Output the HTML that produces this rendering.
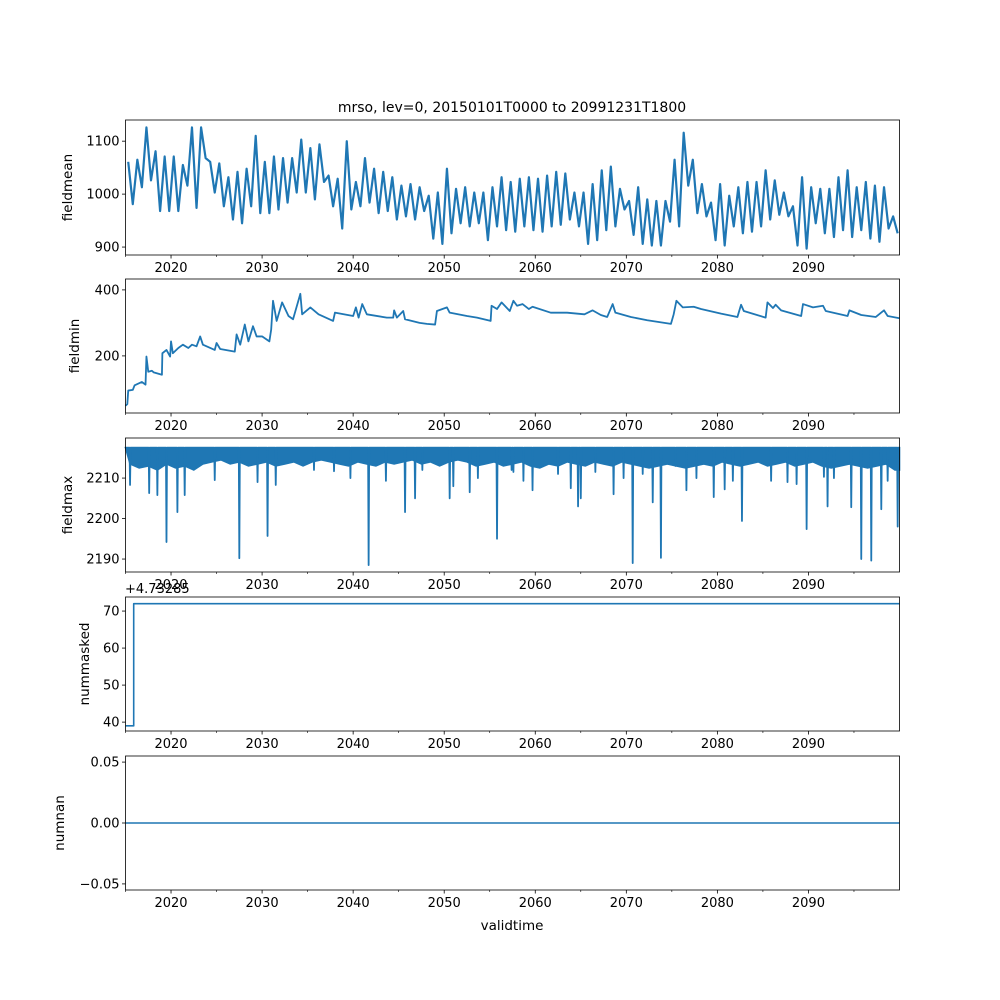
<!DOCTYPE html>
<html><head><meta charset="utf-8"><style>
body{margin:0;background:#fff}
svg{display:block;font-family:"DejaVu Sans","Liberation Sans",sans-serif}
</style></head><body>
<svg id="fig" width="1000" height="1000" viewBox="0 0 1000 1000" xmlns="http://www.w3.org/2000/svg">
<rect width="1000" height="1000" fill="#fff"/>
<text x="512" y="112" font-size="14" text-anchor="middle">mrso, lev=0, 20150101T0000 to 20991231T1800</text>
<text x="512" y="930" font-size="13.5" text-anchor="middle">validtime</text>
<g id="plots"></g>
</svg>
<script>
const meanYears0 = 2015;
const meanHigh = [1061,1065,1126,1081,1071,1071,1055,1126,1126,1061,1058,1032,1042,1048,1110,1061,1071,1068,1068,1103,1087,1094,1035,1029,1100,1023,1068,1048,1042,1032,1016,1019,1013,997,1003,1048,1010,1013,1003,1003,1013,1032,1023,1029,1032,1029,1035,1042,1039,1003,1003,1019,1045,1052,1010,987,1013,990,987,987,1065,1116,1065,1019,984,1019,997,1013,1023,1023,1045,1026,1003,977,1032,1013,1010,1010,1032,1045,1013,1023,1016,1013,958];
const meanLow = [981,1013,1026,968,968,968,1016,974,1068,1003,977,952,945,977,964,964,971,984,1003,1003,990,1023,977,935,971,977,984,964,968,952,958,952,968,916,906,926,945,939,945,913,939,932,929,939,932,929,939,942,952,939,906,913,932,939,971,923,906,903,903,948,939,1016,964,958,913,903,939,926,929,939,952,961,958,903,897,945,926,919,932,919,932,916,910,935,926];
const minYears = [2015.0,2015.2,2015.3,2015.8,2016.0,2016.8,2017.2,2017.3,2017.5,2017.9,2018.1,2019.0,2019.05,2019.5,2019.9,2020.0,2020.2,2020.8,2021.3,2021.9,2022.3,2022.8,2023.2,2023.5,2024.8,2025.0,2025.4,2027.0,2027.2,2027.6,2028.1,2028.5,2029.0,2029.4,2030.0,2030.8,2031.0,2031.2,2031.6,2032.2,2032.9,2033.4,2034.2,2034.4,2035.3,2036.2,2037.8,2038.0,2040.0,2040.3,2040.6,2041.0,2041.5,2043.7,2044.4,2044.5,2044.8,2045.5,2045.7,2047.3,2048.1,2049.0,2049.2,2050.3,2050.6,2052.5,2053.6,2055.1,2055.2,2055.8,2056.3,2057.2,2057.6,2058.0,2058.6,2059.3,2059.7,2061.7,2063.5,2065.4,2066.3,2067.2,2067.9,2068.5,2068.8,2070.5,2072.3,2074.9,2075.2,2075.5,2076.2,2077.4,2078.2,2080.4,2082.2,2082.6,2082.9,2085.3,2085.5,2086.1,2086.4,2087.0,2089.2,2089.4,2090.5,2091.6,2091.9,2094.3,2094.5,2095.8,2097.4,2098.3,2098.7,2100.0];
const minValues = [49,54,95,97,111,121,113,198,152,155,150,143,208,218,198,244,208,224,234,224,234,229,259,234,218,239,221,213,265,234,295,244,290,259,259,244,280,367,306,362,321,311,388,326,347,326,306,331,321,347,316,357,326,316,316,338,316,336,311,300,297,295,336,347,331,321,316,306,352,342,362,336,367,352,357,342,349,331,331,326,338,324,318,357,331,318,308,297,326,367,347,349,342,328,318,355,336,316,362,345,355,338,321,357,347,352,336,321,338,324,318,338,321,314];
const maxTop = 2217.5;
const maxBand = [2213.5,2212.5,2213,2212,2213.5,2212.5,2213,2212,2213.5,2214,2214.5,2213.5,2214,2213,2213.5,2214,2213,2213.5,2214,2213,2214,2214.5,2214,2213.5,2213,2214,2213.5,2213,2214,2213.5,2214,2214.5,2213.5,2214,2213,2214,2214.5,2214,2213,2213.5,2214,2213,2213.5,2214,2213,2212.5,2213.5,2213,2214,2213.5,2213,2214,2213.5,2213,2214,2213.5,2213,2212.5,2213,2213.5,2213,2212.5,2213,2213.5,2213,2214,2213.5,2213,2213.5,2214,2213,2213.5,2214,2213,2213.5,2214,2213,2212.5,2213,2213.5,2213,2212.5,2213,2213.5,2212];
const dipYears = [2015.5,2017.6,2018.5,2019.5,2020.7,2021.5,2024.8,2027.5,2029.5,2030.6,2031.5,2035.7,2037.9,2039.7,2041.7,2043.6,2045.7,2046.8,2047.6,2050.6,2051.0,2052.8,2053.7,2055.8,2057.4,2057.6,2058.7,2059.7,2062.5,2063.9,2064.7,2065.0,2066.6,2068.6,2069.7,2070.7,2071.8,2072.9,2073.8,2075.4,2076.6,2077.7,2079.6,2080.8,2081.7,2082.7,2085.9,2087.7,2088.7,2089.8,2091.7,2092.1,2092.8,2094.7,2095.8,2096.9,2098.0,2098.7,2099.8];
const dipValues = [2208.3,2206.3,2205.8,2194.2,2201.6,2205.8,2209.5,2190.2,2209,2195.7,2208.3,2212,2211.7,2210,2188.5,2209.3,2201.6,2205,2212,2205,2208,2206.5,2210,2195,2212,2211.5,2209.3,2207,2211,2207.5,2203,2205,2211.5,2206,2210,2189,2211,2204,2190.3,2213,2207,2210,2205.3,2207.2,2209.3,2199.4,2209.3,2209,2208.5,2197.4,2210.3,2203,2210,2202.8,2190,2189.6,2202.3,2209.3,2198];
const maskedYears = [2015.0,2015.9,2015.9,2100.0];
const maskedValues = [39,39,72,72];
const nanYears = [2015.0,2100.0];
const nanValues = [0,0];
const xMajorTicks = [2020,2030,2040,2050,2060,2070,2080,2090];
const xMinorTicks = [2015,2025,2035,2045,2055,2065,2075,2085,2095];

const NS='http://www.w3.org/2000/svg';
const C='#1f77b4';
const X0=125.5,X1=899.5,XMIN=2015,XMAX=2100;
const xs=v=>X0+(v-XMIN)/(XMAX-XMIN)*(X1-X0);
const root=document.getElementById('plots');
function mk(tag,attrs,parent){const e=document.createElementNS(NS,tag);for(const k in attrs)e.setAttribute(k,attrs[k]);(parent||root).appendChild(e);return e;}

const panels=[
 {name:'fieldmean',top:120,bot:255,ymin:885,ymax:1140,ticks:[900,1000,1100],labels:['900','1000','1100'],lx:72},
 {name:'fieldmin',top:279,bot:413,ymin:27,ymax:433,ticks:[200,400],labels:['200','400'],lx:79},
 {name:'fieldmax',top:438,bot:572,ymin:2186.8,ymax:2219.9,ticks:[2190,2200,2210],labels:['2190','2200','2210'],lx:72},
 {name:'nummasked',top:597,bot:731,ymin:37.6,ymax:73.8,ticks:[40,50,60,70],labels:['40','50','60','70'],lx:89},
 {name:'numnan',top:756,bot:890,ymin:-0.055,ymax:0.055,ticks:[-0.05,0,0.05],labels:['\u22120.05','0.00','0.05'],lx:64}
];
panels.forEach((p,i)=>{
 const g=mk('g',{});
 
 
 p.ys=v=>p.bot-(v-p.ymin)/(p.ymax-p.ymin)*(p.bot-p.top);
 p.g=g;
 xMajorTicks.forEach(t=>{
  const x=xs(t);
  const l=mk('line',{x1:x,x2:x,y1:p.bot,y2:p.bot+3.5,stroke:'#000','stroke-width':0.8},g);
  
  
  const tx=mk('text',{x:x,y:p.bot+17,'font-size':13,'text-anchor':'middle'},g);
  
  
  tx.textContent=t;
 });
 xMinorTicks.forEach(t=>{
  const x=xs(t);
  const l=mk('line',{x1:x,x2:x,y1:p.bot,y2:p.bot+2,stroke:'#000','stroke-width':0.6},g);
  
  
 });
 p.ticks.forEach((t,j)=>{
  const y=p.ys(t);
  const l=mk('line',{x1:X0-3.5,x2:X0,y1:y,y2:y,stroke:'#000','stroke-width':0.8},g);
  
  
  const tx=mk('text',{x:X0-6,y:y+4.5,'font-size':13,'text-anchor':'end'},g);
  
  
  tx.textContent=p.labels[j];
 });
 const yl=mk('text',{x:p.lx,y:(p.top+p.bot)/2,'font-size':13.5,'text-anchor':'middle',transform:`rotate(-90 ${p.lx} ${(p.top+p.bot)/2})`},g);
 
 
 yl.textContent=p.name;
});
function line(p,pts,name,w){
 const d=pts.map((q,i)=>(i?'L':'M')+xs(q[0]).toFixed(2)+' '+p.ys(q[1]).toFixed(2)).join('');
 const e=mk('path',{d:d,fill:'none',stroke:C,'stroke-width':w||1.6,'stroke-linejoin':'round'},p.g);
 
 
 return e;
}
{const pts=[];meanHigh.forEach((h,i)=>{pts.push([meanYears0+i+0.3,h]);pts.push([meanYears0+i+0.8,meanLow[i]]);});line(panels[0],pts,'fieldmean-line',2.2);}
line(panels[1],minYears.map((y,i)=>[y,minValues[i]]),'fieldmin-line',1.8);
{const p=panels[2];const pts=[[XMIN,maxTop]];
 maxBand.forEach((b,i)=>{pts.push([meanYears0+i+0.5,b]);});
 pts.push([XMAX,maxBand[maxBand.length-1]]);
 pts.push([XMAX,maxTop]);
 const d=pts.map((q,i)=>(i?'L':'M')+xs(q[0]).toFixed(2)+' '+p.ys(q[1]).toFixed(2)).join('')+'Z';
 const band=mk('path',{d:d,fill:C,stroke:C,'stroke-width':1.6},p.g);
 
 
 const dp=[[XMIN,maxTop]];
 dipYears.forEach((y,i)=>{dp.push([y-0.06,maxTop]);dp.push([y,dipValues[i]]);dp.push([y+0.06,maxTop]);});
 dp.push([XMAX,maxTop]);
 line(p,dp,'fieldmax-line',1.8);
}
line(panels[3],maskedYears.map((y,i)=>[y,maskedValues[i]]),'nummasked-line');
line(panels[4],nanYears.map((y,i)=>[y,nanValues[i]]),'numnan-line');
panels.forEach(p=>{
 const r=mk('rect',{x:X0,y:p.top,width:X1-X0,height:p.bot-p.top,fill:'none',stroke:'#000','stroke-width':0.8},p.g);
 
 
});
const off=mk('text',{x:125,y:593,'font-size':13},panels[3].g);


off.textContent='+4.73285';
</script>
</body></html>
